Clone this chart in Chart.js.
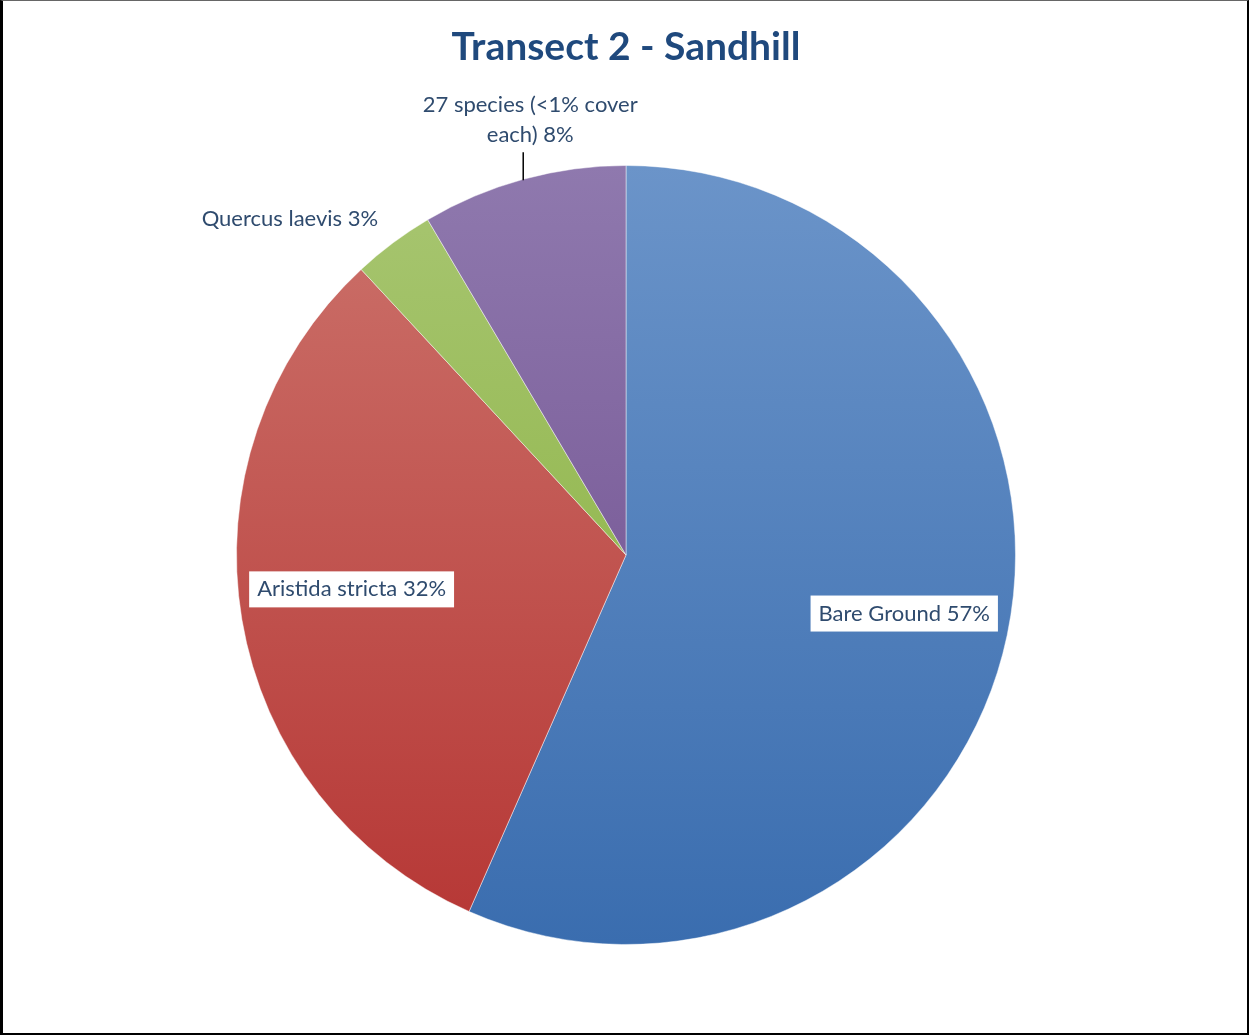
<!DOCTYPE html>
<html>
<head>
<meta charset="utf-8">
<script src="https://cdn.jsdelivr.net/npm/chart.js@4/dist/chart.umd.min.js"></script>
<style>
  html, body { margin: 0; padding: 0; background: #fff; }
  #wrap { position: relative; width: 1249px; height: 1035px; }
  #c { position: absolute; left: 0; top: 0; }
  #frame { position: absolute; left: 0; top: 0; width: 1249px; height: 1035px; box-sizing: border-box;
    border-left: 3px solid #000; border-top: 1px solid #666; border-right: 2px solid #000; border-bottom: 2px solid #000; pointer-events: none; }
</style>
</head>
<body>
<div id="wrap">
  <canvas id="c" width="1249" height="1035"></canvas>
  <div id="frame"></div>
</div>
<script>
// ---- data ----
const titleText = 'Transect 2 - Sandhill';
const categories = ['Bare Ground', 'Aristida stricta', 'Quercus laevis', '27 species (<1% cover each)'];
const values = [56.6, 31.5, 3.4, 8.5];
const percentLabels = ['57%', '32%', '3%', '8%'];
const labelLines = [['Bare Ground 57%'], ['Aristida stricta 32%'], ['Quercus laevis 3%'], ['27 species (<1% cover', 'each) 8%']];

// ---- styles ----
const gradStops = [
  ['#6b94c9', '#3a6daf'],
  ['#cc736c', '#b63634'],
  ['#a8c672', '#84ad36'],
  ['#8f79ae', '#6a4789']
];
const FONT = 'Lato, "Open Sans", sans-serif';
const LABEL_COLOR = '#2f4b6e';

function sliceFill(ctx) {
  const chart = ctx.chart;
  const area = chart.chartArea;
  if (!area) return gradStops[ctx.dataIndex][1];
  const meta = chart.getDatasetMeta(0);
  const el = meta.data[ctx.dataIndex];
  const cy = el && el.y ? el.y : (area.top + area.bottom) / 2;
  const r = el && el.outerRadius ? el.outerRadius : (area.bottom - area.top) / 2;
  const g = chart.ctx.createLinearGradient(0, cy - r, 0, cy + r);
  g.addColorStop(0, gradStops[ctx.dataIndex][0]);
  g.addColorStop(1, gradStops[ctx.dataIndex][1]);
  return g;
}

// label placement: [radius factor, angle offset deg, boxed, leader]
const labelPlace = [
  { f: 0.73, da: 0, box: true },
  { f: 0.71, da: 2.4, box: true },
  { f: 1.22, da: -8.3, box: false },
  { f: 1.14, da: 0, box: false, leader: true }
];

const labelPlugin = {
  id: 'sliceLabels',
  afterDatasetsDraw(chart) {
    const ctx = chart.ctx;
    const meta = chart.getDatasetMeta(0);
    ctx.save();
    ctx.font = '22px ' + FONT;
    ctx.textAlign = 'center';
    ctx.textBaseline = 'middle';
    meta.data.forEach((arc, i) => {
      const p = labelPlace[i];
      const mid = (arc.startAngle + arc.endAngle) / 2 + p.da * Math.PI / 180;
      const R = arc.outerRadius;
      const lines = labelLines[i];
      const lh = 30;
      if (p.leader) {
        const lx = arc.x + R * Math.cos(mid);
        const edgeY = arc.y - Math.sqrt(R * R - (lx - arc.x) * (lx - arc.x));
        ctx.strokeStyle = '#000';
        ctx.lineWidth = 1.5;
        ctx.beginPath();
        ctx.moveTo(lx, edgeY + 1);
        ctx.lineTo(lx, edgeY - 27);
        ctx.stroke();
        ctx.fillStyle = LABEL_COLOR;
        const bottomY = edgeY - 44;
        const tx = lx + 7;
        lines.forEach((t, k) => {
          ctx.fillText(t, tx, bottomY - (lines.length - 1 - k) * lh);
        });
        return;
      }
      const cx = arc.x + R * p.f * Math.cos(mid);
      const cy = arc.y + R * p.f * Math.sin(mid);
      if (p.box) {
        const w = ctx.measureText(lines[0]).width + 16;
        const h = 36;
        ctx.fillStyle = '#fff';
        ctx.fillRect(cx - w / 2, cy - h / 2, w, h);
      }
      ctx.fillStyle = LABEL_COLOR;
      lines.forEach((t, k) => {
        ctx.fillText(t, cx, cy + (k - (lines.length - 1) / 2) * lh);
      });
    });
    ctx.restore();
  }
};

new Chart(document.getElementById('c'), {
  type: 'pie',
  data: {
    labels: categories,
    datasets: [{
      data: values,
      backgroundColor: sliceFill,
      borderColor: 'rgba(255,255,255,0.45)',
      borderWidth: 1
    }]
  },
  options: {
    responsive: false,
    animation: false,
    rotation: 0,
    layout: { padding: { top: 0, bottom: 90, left: 236, right: 233 } },
    plugins: {
      legend: { display: false },
      tooltip: { enabled: false },
      title: {
        display: true,
        text: titleText,
        color: '#1f497d',
        font: { family: FONT, size: 39, weight: 'bold', lineHeight: 1.2 },
        padding: { top: 24, bottom: 94.2 }
      }
    }
  },
  plugins: [labelPlugin]
});
</script>
</body>
</html>
